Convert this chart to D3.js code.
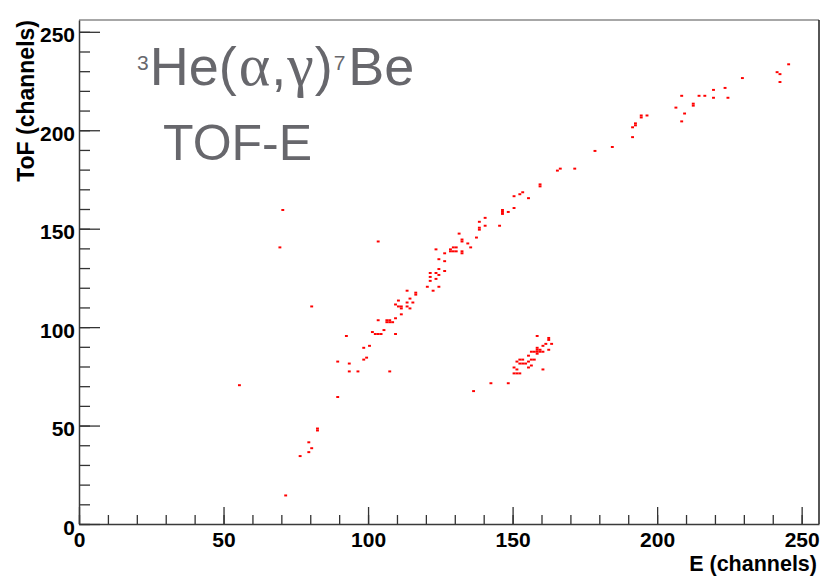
<!DOCTYPE html>
<html>
<head>
<meta charset="utf-8">
<script src="https://cdn.jsdelivr.net/npm/d3@7"></script>
<style>
  body { margin: 0; background: #fff; }
  svg { display: block; }
</style>
</head>
<body>
<svg id="chart" width="827" height="584"></svg>
<script>
// Filled bins of the TOF-E histogram (channel indices, 1 channel per bin)
const energyBins = [
  55, 70, 69, 71, 76, 79, 80, 79, 82, 82, 80, 89, 89, 92, 93, 93, 96, 98, 99, 98,
  100, 101, 102, 103, 104, 103, 103, 105, 106, 107, 106, 107, 108, 107, 109, 109, 111, 111, 111, 110,
  109, 110, 113, 114, 113, 115, 114, 116, 116, 113, 122, 120, 124, 121, 123, 121, 124, 121, 123, 126,
  124, 126, 124, 126, 128, 129, 130, 132, 132, 128, 123, 129, 130, 135, 134, 132, 132, 137, 131, 138,
  138, 140, 145, 138, 140, 146, 146, 148, 146, 150,
  136, 142, 148, 150, 151, 152, 151, 150, 155, 160, 152, 153, 154, 156, 155, 151, 152, 153, 156, 157,
  155, 156, 157, 158, 159, 160, 158, 159, 158, 162, 158, 160, 161, 163, 162, 162, 158,
  150, 152, 153, 155, 159, 159, 165, 166, 171, 178, 184, 191, 191, 192, 192, 194, 194, 196, 206, 208,
  209, 212, 212, 208, 214, 216, 219, 224, 219, 223, 229, 242, 241, 242, 245
];
const tofBins = [
  70, 159, 140, 14, 34, 36, 38, 41, 47, 48, 110, 64, 82, 95, 81, 77, 77, 83, 84, 89,
  90, 97, 96, 96, 96, 103, 143, 98, 102, 102, 103, 103, 102, 77, 96, 104, 106, 109, 110, 110,
  111, 113, 110, 109, 112, 112, 114, 116, 117, 118, 118, 120, 120, 123, 124, 125, 126, 127, 127, 128,
  129, 133, 134, 137, 138, 138, 138, 137, 138, 139, 139, 140, 140, 140, 142, 143, 144, 145, 147, 149,
  150, 151, 151, 153, 155, 157, 158, 158, 159, 160,
  67, 71, 71, 76, 76, 76, 78, 79, 79, 78, 81, 81, 81, 80, 82, 82, 83, 83, 83, 83,
  85, 87, 87, 87, 87, 87, 88, 88, 86, 88, 89, 90, 91, 91, 93, 94, 95,
  166, 167, 168, 165, 171, 172, 179, 180, 180, 189, 191, 196, 201, 202, 203, 206, 207, 207, 211, 204,
  208, 212, 213, 217, 217, 217, 216, 216, 220, 221, 226, 224, 229, 228, 233
];

const xMajorTicks = [0, 50, 100, 150, 200, 250];
const yMajorTicks = [0, 50, 100, 150, 200, 250];
const xTitle = "E (channels)";
const yTitle = "ToF (channels)";

const svg = d3.select("#chart");
const font = "'Liberation Sans', Arial, Helvetica, sans-serif";
const serif = "'Liberation Serif', 'Times New Roman', serif";

const x = d3.scaleLinear().domain([0, 256]).range([79, 819]);
const y = d3.scaleLinear().domain([0, 256]).range([524, 20]);

// Histogram bins as one-channel cells
const bins = energyBins.map((e, i) => ({ e, t: tofBins[i] }));
svg.append("g")
  .selectAll("rect")
  .data(bins)
  .join("rect")
  .attr("x", d => x(d.e))
  .attr("y", d => y(d.t + 1))
  .attr("width", d => x(d.e + 1) - x(d.e))
  .attr("height", d => y(d.t) - y(d.t + 1))
  .attr("fill", "#ff0000");

// Frame: top and right edges
svg.append("line")
  .attr("x1", x(0)).attr("x2", x(256)).attr("y1", y(256)).attr("y2", y(256))
  .attr("stroke", "#8a8a8a").attr("stroke-width", 1.5);
svg.append("line")
  .attr("x1", x(256)).attr("x2", x(256)).attr("y1", y(256)).attr("y2", y(0))
  .attr("stroke", "#1e1e1e").attr("stroke-width", 1.5);

// X axis: minor ticks every 10 channels, major every 50
const xMinor = svg.append("g").attr("transform", `translate(0,${y(0)})`)
  .call(d3.axisBottom(x).tickValues(d3.range(0, 256, 10)).tickSize(-9).tickSizeOuter(0).tickFormat(""));
xMinor.select(".domain").remove();
const xAxis = svg.append("g").attr("transform", `translate(0,${y(0)})`)
  .call(d3.axisBottom(x).tickValues(xMajorTicks).tickSize(-17).tickSizeOuter(0).tickPadding(8).tickFormat(d3.format("d")));
xAxis.select(".domain").attr("stroke", "#3a3a3a").attr("stroke-width", 1.5);

// Y axis: minor ticks every 10 channels, major every 50
const yMinor = svg.append("g").attr("transform", `translate(${x(0)},0)`)
  .call(d3.axisLeft(y).tickValues(d3.range(0, 256, 10)).tickSize(-11).tickSizeOuter(0).tickFormat(""));
yMinor.select(".domain").remove();
const yAxis = svg.append("g").attr("transform", `translate(${x(0)},0)`)
  .call(d3.axisLeft(y).tickValues(yMajorTicks).tickSize(-21).tickSizeOuter(0).tickPadding(4).tickFormat(d3.format("d")));
yAxis.select(".domain").attr("stroke", "#3a3a3a").attr("stroke-width", 1.5);
yAxis.selectAll(".tick text").attr("dy", "0.48em");

svg.selectAll(".tick line").attr("stroke", "#333").attr("stroke-width", 1.3);
svg.selectAll(".tick text")
  .attr("fill", "#000")
  .style("font-family", font)
  .style("font-weight", "bold")
  .style("font-size", "21px");

// Axis titles
svg.append("text")
  .attr("x", 817).attr("y", 571)
  .attr("text-anchor", "end")
  .style("font-family", font).style("font-weight", "bold").style("font-size", "21.5px")
  .text(xTitle);
svg.append("text")
  .attr("transform", "translate(34,20) rotate(-90)")
  .attr("text-anchor", "end")
  .style("font-family", font).style("font-weight", "bold").style("font-size", "23px")
  .text(yTitle);

// Reaction label
const titleColor = "#67676c";
const t1 = svg.append("text")
  .attr("x", 137).attr("y", 85)
  .attr("fill", titleColor)
  .style("font-family", font).style("font-size", "54px");
t1.append("tspan").attr("dy", -15).style("font-size", "21px").text("3");
t1.append("tspan").attr("dy", 15).attr("dx", 1).text("He(");
t1.append("tspan").attr("dx", 2).style("font-family", serif).style("font-size", "60px").text("\u03b1");
t1.append("tspan").attr("dx", 1).text(",");
t1.append("tspan").attr("dx", 1).style("font-family", serif).style("font-size", "60px").text("\u03b3");
t1.append("tspan").attr("dx", 1).text(")");
t1.append("tspan").attr("dy", -15).attr("dx", 1).style("font-size", "21px").text("7");
t1.append("tspan").attr("dy", 15).attr("dx", 3).text("Be");

svg.append("text")
  .attr("x", 163).attr("y", 160)
  .attr("fill", titleColor)
  .style("font-family", font).style("font-size", "50px")
  .text("TOF-E");
</script>
</body>
</html>
